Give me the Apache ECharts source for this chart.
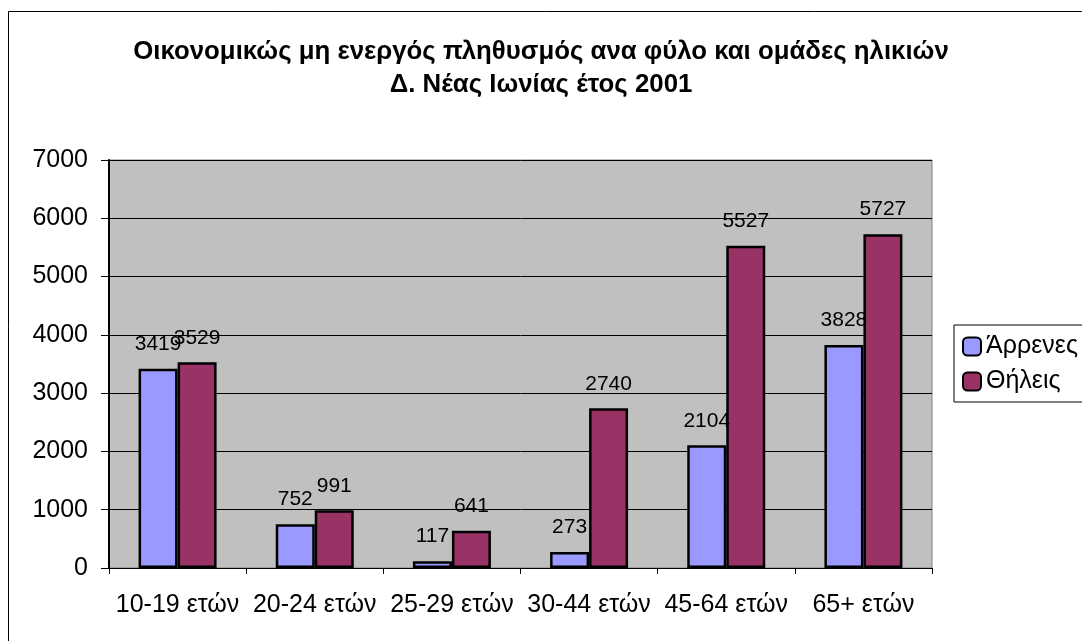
<!DOCTYPE html>
<html>
<head>
<meta charset="utf-8">
<script src="https://cdn.jsdelivr.net/npm/echarts@6/dist/echarts.min.js"></script>
<style>
  html, body { margin: 0; padding: 0; background: #fff; }
  #chart { width: 1082px; height: 641px; }
</style>
</head>
<body>
<div id="chart"></div>
<script>
// κατηγορίες ηλικιών
var categories = ["10-19 ετών", "20-24 ετών", "25-29 ετών", "30-44 ετών", "45-64 ετών", "65+ ετών"];
var males = [3419, 752, 117, 273, 2104, 3828];
var females = [3529, 991, 641, 2740, 5527, 5727];

var font = "'Liberation Sans', Arial, sans-serif";
var myChart = echarts.init(document.getElementById("chart"));

myChart.setOption({
  backgroundColor: "#fff",
  animation: false,
  title: {
    text: "Οικονομικώς μη ενεργός πληθυσμός ανα φύλο και ομάδες ηλικιών\nΔ. Νέας Ιωνίας έτος 2001",
    left: "center",
    top: 30,
    textStyle: { fontFamily: font, fontSize: 25.8, fontWeight: "bold", color: "#000", lineHeight: 33 },
  },
  graphic: [
    {
      type: "rect",
      shape: { x: 8.5, y: 11.5, width: 1100, height: 700 },
      style: { fill: "none", stroke: "#000", lineWidth: 1 },
      silent: true,
    },
  ],
  legend: {
    orient: "vertical",
    left: 954,
    top: 325,
    padding: [9, 40, 8, 8],
    itemGap: 10,
    itemWidth: 18,
    itemHeight: 18,
    borderColor: "#000",
    borderWidth: 1,
    backgroundColor: "#fff",
    textStyle: { fontFamily: font, fontSize: 25, color: "#000" },
    data: [
      { name: "Άρρενες", itemStyle: { color: "#9999FF", borderColor: "#000", borderWidth: 2 } },
      { name: "Θήλεις", itemStyle: { color: "#993366", borderColor: "#000", borderWidth: 2 } },
    ],
  },
  grid: {
    left: 109,
    top: 160,
    right: 150,
    bottom: 73,
    show: true,
    backgroundColor: "#C0C0C0",
    borderColor: "#808080",
    borderWidth: 1,
  },
  xAxis: {
    type: "category",
    data: categories,
    axisLine: { lineStyle: { color: "#000", width: 1 } },
    axisTick: { show: true, length: 6, alignWithLabel: false, lineStyle: { color: "#000" } },
    axisLabel: { interval: 0, fontFamily: font, fontSize: 25, color: "#000", margin: 25 },
  },
  yAxis: {
    type: "value",
    min: 0,
    max: 7000,
    interval: 1000,
    axisLine: { show: true, lineStyle: { color: "#000", width: 2 } },
    axisTick: { show: true, length: 8, lineStyle: { color: "#000" } },
    axisLabel: {
      fontFamily: font,
      fontSize: 25,
      color: "#000",
      margin: 21,
      formatter: function (v) {
        return String(v);
      },
    },
    splitLine: { lineStyle: { color: "#000", width: 1 } },
  },
  series: [
    {
      name: "Άρρενες",
      type: "bar",
      data: males,
      barWidth: 39,
      barGap: "0%",
      itemStyle: { color: "#9999FF", borderColor: "#000", borderWidth: 2.5 },
      label: { show: true, position: "top", distance: 14, fontFamily: font, fontSize: 21, color: "#000" },
    },
    {
      name: "Θήλεις",
      type: "bar",
      data: females,
      barWidth: 39,
      barGap: "0%",
      itemStyle: { color: "#993366", borderColor: "#000", borderWidth: 2.5 },
      label: { show: true, position: "top", distance: 14, fontFamily: font, fontSize: 21, color: "#000" },
    },
  ],
});
</script>
</body>
</html>
